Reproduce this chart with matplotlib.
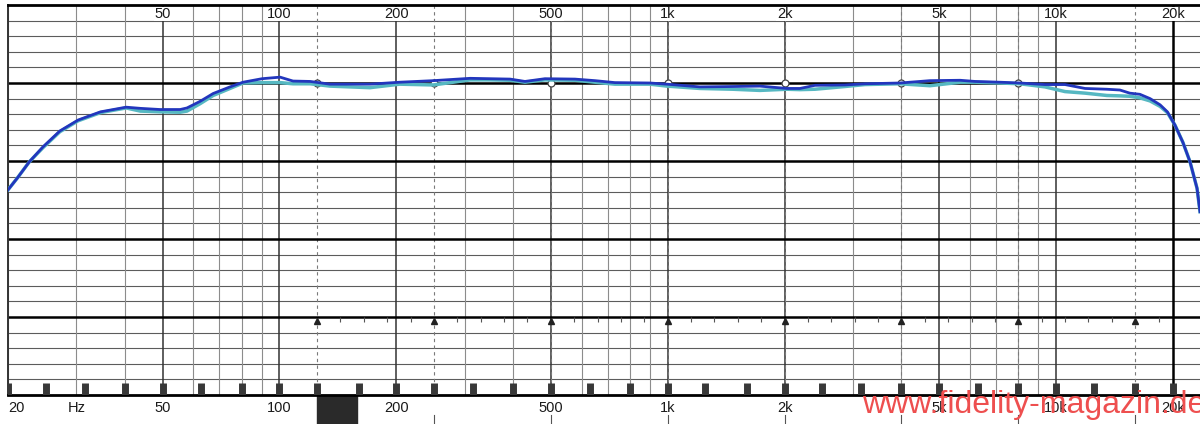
import matplotlib
matplotlib.use("Agg")
import matplotlib.pyplot as plt
import matplotlib.transforms as mtransforms
from matplotlib.patches import Rectangle

# ---------------- data ----------------
freq_hz = [20, 21.2, 22.7, 24.6, 27.2, 30.3, 34.6, 40.3, 43.8, 49.3, 55.5, 57.8,
           62.5, 67.5, 74.6, 80.6, 90.2, 100.4, 108.4, 120, 135, 171, 204, 249,
           310, 349, 393, 429, 483, 577, 650, 731, 900, 996, 1211, 1472, 1728,
           2028, 2191, 2395, 2862, 3222, 3964, 4736, 5662, 6188, 7176, 8078,
           9372, 10550, 11880, 13520, 14610, 15490, 16450, 17470, 18540, 19360,
           20250, 21220, 22140, 23080, 23490]

level_dark_db = [-13.7, -12.1, -10.1, -8.2, -6.15, -4.75, -3.7, -3.1, -3.25, -3.4, -3.4, -3.2,
                 -2.35, -1.35, -0.5, 0.1, 0.55, 0.75, 0.25, 0.2, -0.15, -0.15, 0.1, 0.3,
                 0.6, 0.55, 0.5, 0.2, 0.55, 0.5, 0.3, 0.05, 0.0, -0.15, -0.5, -0.45, -0.4,
                 -0.7, -0.7, -0.3, -0.25, -0.1, 0.0, 0.3, 0.35, 0.2, 0.1, 0.0,
                 -0.2, -0.2, -0.7, -0.8, -0.9, -1.3, -1.45, -2.0, -2.8, -3.7,
                 -5.4, -7.6, -10.1, -13.5, -16.5]

level_light_db = [-13.7, -12.1, -10.1, -8.3, -6.25, -4.85, -3.8, -3.2, -3.6, -3.7, -3.75, -3.6,
                  -2.65, -1.6, -0.7, 0.0, 0.05, 0.05, -0.1, -0.1, -0.4, -0.6, -0.15, -0.25,
                  0.4, 0.4, 0.35, 0.1, 0.4, 0.35, 0.1, -0.15, -0.15, -0.4, -0.7, -0.8, -0.95,
                  -0.8, -0.85, -0.8, -0.45, -0.2, -0.1, -0.35, 0.1, 0.1, 0.0, -0.1,
                  -0.5, -1.1, -1.3, -1.6, -1.65, -1.7, -1.9, -2.3, -3.0, -3.8,
                  -5.4, -7.6, -10.1, -13.5, -16.5]

top_label_freqs = [50, 100, 200, 500, 1000, 2000, 5000, 10000, 20000]
top_labels = ["50", "100", "200", "500", "1k", "2k", "5k", "10k", "20k"]
bottom_label_freqs = [20, 30, 50, 100, 200, 500, 1000, 2000, 5000, 10000, 20000]
bottom_labels = ["20", "Hz", "50", "100", "200", "500", "1k", "2k", "5k", "10k", "20k"]
octave_marks = [125, 250, 500, 1000, 2000, 4000, 8000, 16000]
third_octave = [20, 25, 31.5, 40, 50, 63, 80, 100, 125, 160, 200, 250, 315, 400, 500,
                630, 800, 1000, 1250, 1600, 2000, 2500, 3150, 4000, 5000, 6300, 8000,
                10000, 12500, 16000, 20000]
watermark = "www.fidelity-magazin.de"

# ---------------- figure ----------------
plt.rcParams["font.family"] = ["Liberation Sans", "DejaVu Sans"]
W, H = 1200, 424
fig = plt.figure(figsize=(W / 100, H / 100), dpi=100)
fig.patch.set_facecolor("white")
ax = fig.add_axes([8 / W, 29 / H, 1192 / W, 390 / H])
ax.set_xscale("log")
ax.set_xlim(20, 23490)
ax.set_ylim(-40, 10)
ax.tick_params(which="both", length=0, labelbottom=False, labelleft=False)
ax.xaxis.set_minor_locator(matplotlib.ticker.NullLocator())
ax.xaxis.set_major_locator(matplotlib.ticker.NullLocator())
ax.yaxis.set_major_locator(matplotlib.ticker.NullLocator())

ax.spines["right"].set_visible(False)
ax.spines["top"].set_linewidth(2.0)
ax.spines["bottom"].set_linewidth(2.0)
ax.spines["left"].set_linewidth(1.4)
ax.spines["left"].set_color("#333333")

# horizontal grid
for y in range(-38, 10, 2):
    if y % 10 == 0:
        ax.axhline(y, color="black", lw=1.8, zorder=2)
    else:
        ax.axhline(y, color="#5c5c5c", lw=0.8, zorder=1)

# vertical grid
labeled = set(top_label_freqs)
for dec in [10, 100, 1000, 10000]:
    for m in range(1, 10):
        f = dec * m
        if f < 20 or f > 20000:
            continue
        if f == 20000:
            ax.axvline(f, color="black", lw=1.8, zorder=2)
        elif f in labeled:
            ax.axvline(f, color="#333333", lw=1.1, zorder=1)
        else:
            ax.axvline(f, color="#8c8c8c", lw=0.8, zorder=1)

# octave marker lines (dashed)
for f in octave_marks:
    ax.axvline(f, color="#7a7a7a", lw=0.8, ls=(0, (3, 3)), zorder=1)

# small 1/5 octave ticks under -30 dB line
fifth = [125 * 2 ** (k / 5) for k in range(1, 37) if k % 5 != 0]
ax.vlines(fifth, -30.65, -30.0, color="#555555", lw=0.8, zorder=2)

# octave triangles and circles
ax.plot(octave_marks, [-30.5] * len(octave_marks), "^", ms=5, color="#222222",
        zorder=3, clip_on=False)
ax.plot(octave_marks[:-1], [0] * (len(octave_marks) - 1), "o", ms=5, mfc="white",
        mec="#444444", mew=0.9, zorder=3)

# third-octave squares at bottom
ax.vlines(third_octave, -40, -38.45, color="#383838", lw=5, zorder=3, capstyle="butt")

# curves
ax.plot(freq_hz, level_light_db, color="#56b8c2", lw=2.5, zorder=4,
        solid_joinstyle="round")
ax.plot(freq_hz, level_dark_db, color="#2236bd", lw=2.0, zorder=5,
        solid_joinstyle="round")

blend = mtransforms.blended_transform_factory(ax.transData, ax.transAxes)

# black sensor rectangle under the axis
ax.add_patch(Rectangle((125, -0.08), 158.7 - 125, 0.08, transform=blend,
                       clip_on=False, color="#2a2a2a", zorder=1))

# octave ticks under axis
for f in octave_marks[1:]:
    ax.plot([f, f], [-0.05, -0.08], transform=blend, clip_on=False,
            color="#555555", lw=0.8)

# watermark
fig.text(862 / W, (H - 413) / H, watermark, color="#ee4f4f", fontsize=23,
         ha="left", va="baseline", zorder=0)

# labels
for f, t in zip(top_label_freqs, top_labels):
    ax.text(f, 1 - 9 / 390, t, transform=blend, ha="center", va="center",
            fontsize=10.5, color="#1a1a1a", zorder=6,
            bbox=dict(facecolor="white", edgecolor="none", pad=0.3))
for f, t in zip(bottom_label_freqs, bottom_labels):
    ha = "left" if t == "20" else "center"
    ax.text(f, -13.5 / 390, t, transform=blend, ha=ha, va="center",
            fontsize=10.5, color="#1a1a1a", clip_on=False, zorder=6)

fig.savefig("out.png", dpi=100, facecolor="white")
